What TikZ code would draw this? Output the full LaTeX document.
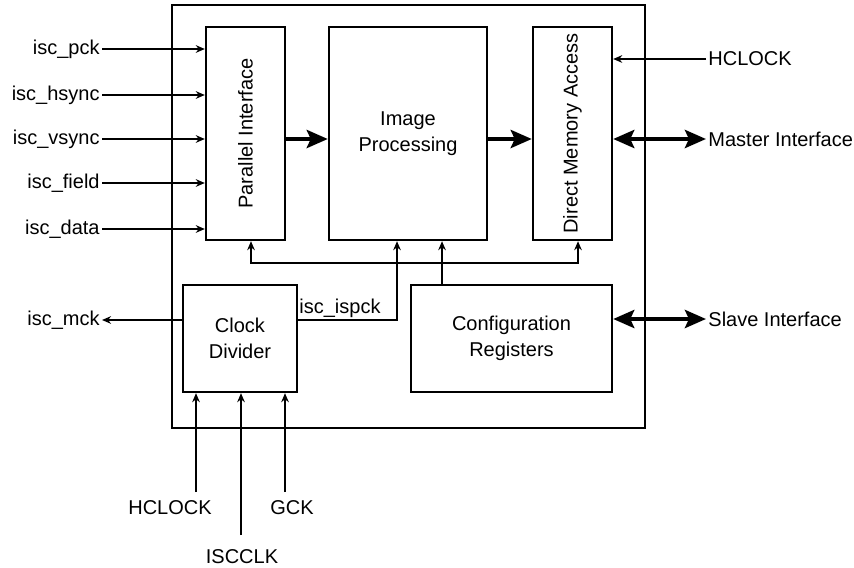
\documentclass[tikz,border=0pt]{standalone}
\usepackage{fontspec}
\setmainfont{Liberation Sans}
\usetikzlibrary{positioning, arrows.meta}
\tikzset{
    iscBlock/.style={
        rectangle,
        draw,
        line width=1.2pt,
        align=center,
        inner sep=2pt,
        font=\fontsize{10}{13}\selectfont
    },
    iscSignal/.style={
        font=\fontsize{10}{12}\selectfont,
        inner sep=1pt
    },
    % Arrows
    iscThin/.style={-{Stealth[length=4.5pt, width=3.8pt]}, line width=1pt},
    iscBus/.style={-{Stealth[length=10.5pt, width=9pt, inset=2pt]}, line width=2.4pt},
    iscBoth/.style={{Stealth[length=10.5pt, width=9pt, inset=2pt]}-{Stealth[length=10.5pt, width=9pt, inset=2pt]}, line width=2.4pt}
}

\begin{document}
\begin{tikzpicture}[x=0.5pt, y=-0.5pt]
    \useasboundingbox (0,0) rectangle (854,567);
    % blocks
    \node[iscBlock, minimum width=236.5pt, minimum height=211.5pt] (isc) at (408.5,216.5) {};
    \node[iscBlock, minimum width=39.5pt, minimum height=106.5pt] (pi) at (245.5,133.5) {\rotatebox{90}{Parallel Interface}};
    \node[iscBlock, minimum width=79pt, minimum height=106.5pt] (ip) at (408,133.5) {Image\\Processing};
    \node[iscBlock, minimum width=39.5pt, minimum height=106.5pt] (dma) at (572.5,133.5) {\rotatebox{90}{Direct Memory Access}};
    \node[iscBlock, minimum width=57pt, minimum height=53.5pt] (clk) at (240,338.5) {Clock\\Divider};
    \node[iscBlock, minimum width=100.5pt, minimum height=53.5pt] (cfg) at (511.5,338.5) {Configuration\\Registers};

    % sensor side
    \node[iscSignal, anchor=east] (pck) at (102,49) {isc\_pck};
    \node[iscSignal, anchor=east] (hsync) at (102,95) {isc\_hsync};
    \node[iscSignal, anchor=east] (vsync) at (102,139) {isc\_vsync};
    \node[iscSignal, anchor=east] (field) at (102,183) {isc\_field};
    \node[iscSignal, anchor=east] (data) at (102,229) {isc\_data};
    \node[iscSignal, anchor=east] (mck) at (102,320) {isc\_mck};
    \draw[iscThin] (pck.east) -- (pck.east -| pi.west);
    \draw[iscThin] (hsync.east) -- (hsync.east -| pi.west);
    \draw[iscThin] (vsync.east) -- (vsync.east -| pi.west);
    \draw[iscThin] (field.east) -- (field.east -| pi.west);
    \draw[iscThin] (data.east) -- (data.east -| pi.west);
    \draw[iscThin] (clk.west |- mck.east) -- (mck.east);

    % system side
    \node[iscSignal, anchor=west] (hclk) at (706,59) {HCLOCK};
    \node[iscSignal, anchor=west] (master) at (706,139) {Master Interface};
    \node[iscSignal, anchor=west] (slave) at (706,319) {Slave Interface};
    \draw[iscThin] (hclk.west) -- (hclk.west -| dma.east);
    \draw[iscBoth] (master.west -| dma.east) -- (master.west);
    \draw[iscBoth] (slave.west -| cfg.east) -- (slave.west);

    % data path
    \draw[iscBus] (master.west -| pi.east) -- (master.west -| ip.west);
    \draw[iscBus] (master.west -| ip.east) -- (master.west -| dma.west);

    % configuration bus
    \coordinate (tap) at (442,263);
    \draw[iscThin] (cfg.north -| tap) -- (ip.south -| tap);
    \draw[iscThin] (tap) -| ([xshift=2.75pt]pi.south);
    \draw[iscThin] (tap) -| ([xshift=2.75pt]dma.south);

    % clocks
    \node[iscSignal, anchor=south west] (ispck) at (297,320) {isc\_ispck};
    \draw[iscThin] (ispck.south west) -| ([xshift=-5.5pt]ip.south);
    \node[iscSignal] (hclkb) at (170,508) {HCLOCK};
    \node[iscSignal] (gck) at (292,508) {GCK};
    \node[iscSignal] (iscclk) at (242,557) {ISCCLK};
    \coordinate (hclkin) at (196,492);
    \coordinate (gckin) at (285,492);
    \coordinate (iscclkin) at (241,535);
    \draw[iscThin] (hclkin) -- (hclkin |- clk.south);
    \draw[iscThin] (iscclkin) -- (iscclkin |- clk.south);
    \draw[iscThin] (gckin) -- (gckin |- clk.south);
\end{tikzpicture}
\end{document}
